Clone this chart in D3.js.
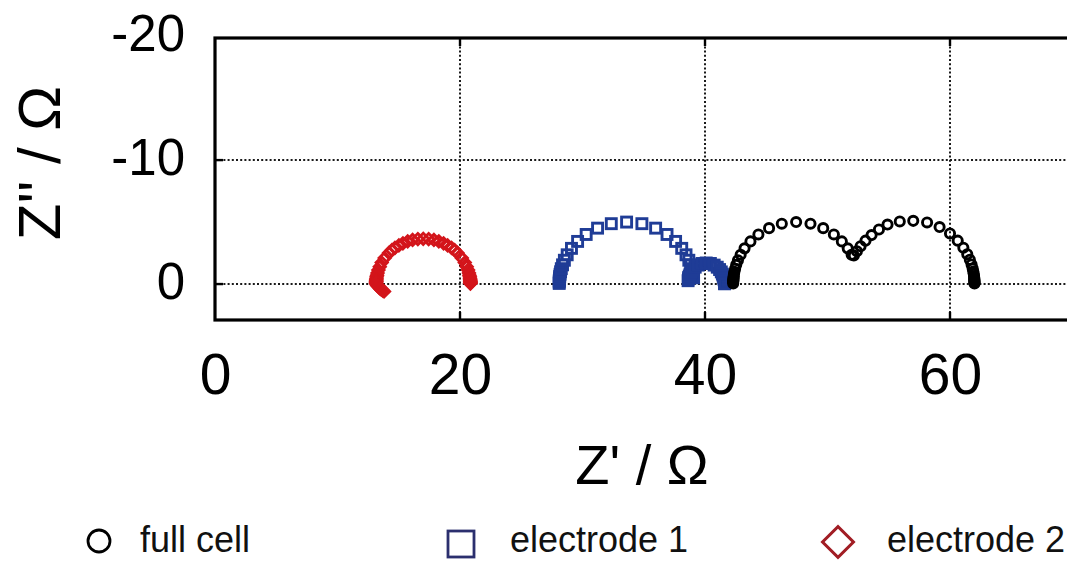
<!DOCTYPE html>
<html><head><meta charset="utf-8">
<script src="https://cdn.jsdelivr.net/npm/d3@7"></script>
<style>
html,body{margin:0;padding:0;background:#fff;}
svg{display:block;font-family:"Liberation Sans",Arial,Helvetica,sans-serif;}
</style>
</head><body>
<svg id="c" width="1067" height="562"></svg>
<script>
// ---- data (Z' , Z'' in ohm) ----
const xTicks = [0, 20, 40, 60];
const yTicks = [-20, -10, 0];
const xGrid = [20, 40, 60];
const yGrid = [-10, 0];
const seriesNames = ["full cell", "electrode 1", "electrode 2"];
const seriesColors = ["#000000", "#1f3c96", "#d3151b"];
const legendColors = ["#000000", "#2b2f6e", "#a11d24"];

const fullCell = [
  [42.30,-0.05],[42.30,-0.16],[42.31,-0.25],[42.31,-0.31],[42.32,-0.40],[42.33,-0.50],
  [42.34,-0.63],[42.36,-0.79],[42.40,-0.99],[42.46,-1.24],[42.55,-1.55],[42.69,-1.92],
  [42.91,-2.36],[43.23,-2.88],[43.71,-3.44],[44.36,-4.00],[45.23,-4.51],[46.27,-4.87],
  [47.44,-5.00],[48.61,-4.87],[49.65,-4.51],[50.52,-4.00],[51.17,-3.44],[51.65,-2.88],
  [51.97,-2.36],[52.15,-2.30],[52.40,-2.65],[52.70,-3.05],[53.10,-3.50],[53.60,-3.95],
  [54.20,-4.40],[54.90,-4.80],[55.90,-5.05],[57.00,-5.10],[58.13,-4.97],[59.15,-4.60],
  [60.00,-4.08],[60.63,-3.50],[61.09,-2.93],[61.41,-2.41],[61.62,-1.96],[61.76,-1.58],
  [61.85,-1.26],[61.90,-1.01],[61.94,-0.81],[61.96,-0.64],[61.98,-0.51],[61.98,-0.41],
  [61.99,-0.32],[61.99,-0.26],[62.00,-0.16],[62.00,-0.11],[62.00,-0.05]
];

const electrode1 = [
  [28.10,-0.05],[28.10,-0.16],[28.11,-0.25],[28.11,-0.31],[28.12,-0.40],[28.13,-0.50],
  [28.14,-0.63],[28.17,-0.79],[28.21,-0.99],[28.27,-1.24],[28.37,-1.55],[28.52,-1.92],
  [28.75,-2.36],[29.10,-2.88],[29.60,-3.44],[30.30,-4.00],[31.23,-4.51],[32.35,-4.87],
  [33.60,-5.00],[34.85,-4.87],[35.97,-4.51],[36.90,-4.00],[37.60,-3.44],[38.10,-2.88],
  [38.45,-2.36],[38.68,-1.92],[38.83,-1.55],[38.93,-1.24],[38.99,-0.99],[39.03,-0.79],
  [39.06,-0.63],[39.07,-0.50],
  [38.62,-0.27],[38.65,-0.42],[38.67,-0.53],[38.72,-0.65],[38.78,-0.80],[38.87,-0.98],
  [39.01,-1.17],[39.20,-1.36],[39.45,-1.53],[39.76,-1.66],[40.10,-1.70],[40.44,-1.66],
  [40.75,-1.53],[41.00,-1.36],[41.19,-1.17],[41.33,-0.98],[41.42,-0.80],[41.48,-0.65],
  [41.53,-0.53],[41.55,-0.42],[41.57,-0.34],[41.59,-0.21],[41.60,-0.14],[41.60,-0.09],
  [41.60,-0.05],[41.60,-0.04],[41.60,-0.02]
];

const electrode2 = [
  [20.85,-0.04],[20.85,-0.08],[20.85,-0.12],[20.85,-0.19],[20.84,-0.23],[20.84,-0.29],
  [20.83,-0.36],[20.82,-0.46],[20.80,-0.58],[20.77,-0.72],[20.73,-0.90],[20.66,-1.13],
  [20.55,-1.40],[20.39,-1.73],[20.15,-2.10],[19.80,-2.51],[19.56,-2.73],[19.31,-2.92],
  [18.99,-3.12],[18.66,-3.29],[18.27,-3.45],[17.87,-3.56],[17.44,-3.63],[17.00,-3.65],
  [16.56,-3.63],[16.13,-3.56],[15.73,-3.45],[15.34,-3.29],[15.01,-3.12],[14.69,-2.92],
  [14.44,-2.73],[14.20,-2.51],[13.85,-2.10],[13.61,-1.73],[13.45,-1.40],[13.34,-1.13],
  [13.27,-0.90],[13.23,-0.72],[13.20,-0.58],[13.18,-0.46],[13.17,-0.36],[13.16,-0.29],
  [13.16,-0.23],[13.16,-0.19],[13.15,-0.12],[13.15,-0.04],
  [13.20,0.06],[13.30,0.17],[13.40,0.28],[13.50,0.38],[13.60,0.46],[13.70,0.53],[13.80,0.60]
];

// ---- chart ----
const svg = d3.select("#c");
const xDom = [0, 70], yDom = [-19.85, 2.9];
const x = d3.scaleLinear().domain(xDom).range([215, 1072.5]);
const y = d3.scaleLinear().domain(yDom).range([38, 320]);

// gridlines
const grid = svg.append("g").attr("stroke", "#1a1a1a").attr("stroke-width", 2)
  .attr("stroke-dasharray", "2,2.2");
grid.selectAll("line.gx").data(xGrid).join("line")
  .attr("x1", d => x(d)).attr("x2", d => x(d))
  .attr("y1", y(yDom[0])).attr("y2", y(yDom[1]));
grid.selectAll("line.gy").data(yGrid).join("line")
  .attr("y1", d => y(d)).attr("y2", d => y(d))
  .attr("x1", x(xDom[0])).attr("x2", x(xDom[1]));

// tick marks (inward)
const tk = svg.append("g").attr("stroke", "#000").attr("stroke-width", 2.4);
xGrid.forEach(d => {
  tk.append("line").attr("x1", x(d)).attr("x2", x(d)).attr("y1", y(yDom[1])).attr("y2", y(yDom[1]) - 8);
  tk.append("line").attr("x1", x(d)).attr("x2", x(d)).attr("y1", y(yDom[0])).attr("y2", y(yDom[0]) + 8);
});
yGrid.forEach(d => {
  tk.append("line").attr("y1", y(d)).attr("y2", y(d)).attr("x1", x(xDom[0])).attr("x2", x(xDom[0]) + 8);
});

// markers
const g2 = svg.append("g");
g2.selectAll("path").data(electrode2).join("path")
  .attr("d", d3.symbol().type(d3.symbolSquare).size(62))
  .attr("transform", d => `translate(${x(d[0])},${y(d[1])}) rotate(45)`)
  .attr("fill", "none").attr("stroke", seriesColors[2]).attr("stroke-width", 2.9);

const g1 = svg.append("g");
g1.selectAll("rect").data(electrode1).join("rect")
  .attr("x", d => x(d[0]) - 5).attr("y", d => y(d[1]) - 5)
  .attr("width", 10).attr("height", 10)
  .attr("fill", "none").attr("stroke", seriesColors[1]).attr("stroke-width", 2.9);

const g0 = svg.append("g");
g0.selectAll("circle").data(fullCell).join("circle")
  .attr("cx", d => x(d[0])).attr("cy", d => y(d[1])).attr("r", 4.6)
  .attr("fill", "none").attr("stroke", seriesColors[0]).attr("stroke-width", 2.9);

// frame
svg.append("rect")
  .attr("x", x(xDom[0])).attr("y", y(yDom[0]))
  .attr("width", x(xDom[1]) - x(xDom[0])).attr("height", y(yDom[1]) - y(yDom[0]))
  .attr("fill", "none").attr("stroke", "#000").attr("stroke-width", 3.2);

// axes labels
const xa = svg.append("g").attr("transform", `translate(0,${y(yDom[1])})`)
  .call(d3.axisBottom(x).tickValues(xTicks).tickSize(0).tickPadding(34).tickFormat(d => String(d)));
xa.select(".domain").remove();
xa.selectAll("text").attr("font-size", 57).attr("fill", "#000")
  .attr("font-family", "'Liberation Sans',Arial,sans-serif");

const ya = svg.append("g").attr("transform", `translate(${x(xDom[0])},0)`)
  .call(d3.axisLeft(y).tickValues(yTicks).tickSize(0).tickPadding(30).tickFormat(d => String(d)));
ya.select(".domain").remove();
ya.selectAll("text").attr("font-size", 51).attr("fill", "#000").attr("dy", "0.28em")
  .attr("font-family", "'Liberation Sans',Arial,sans-serif");

// axis titles
svg.append("text").attr("x", 642).attr("y", 484).attr("text-anchor", "middle")
  .attr("font-size", 56).attr("fill", "#000").text("Z' /  Ω");
svg.append("text").attr("transform", "translate(60,163) rotate(-90)")
  .attr("text-anchor", "middle").attr("font-size", 60).attr("fill", "#000").text("Z'' / Ω");

// legend
const lg = svg.append("g");
lg.append("circle").attr("cx", 99).attr("cy", 541).attr("r", 11)
  .attr("fill", "none").attr("stroke", legendColors[0]).attr("stroke-width", 2.8);
lg.append("rect").attr("x", 448).attr("y", 531).attr("width", 26).attr("height", 26)
  .attr("fill", "none").attr("stroke", legendColors[1]).attr("stroke-width", 2.8);
lg.append("path").attr("d", d3.symbol().type(d3.symbolSquare).size(480))
  .attr("transform", "translate(838,542) rotate(45)")
  .attr("fill", "none").attr("stroke", legendColors[2]).attr("stroke-width", 3);
const legX = [140, 510, 887];
lg.selectAll("text").data(seriesNames).join("text")
  .attr("x", (d, i) => legX[i]).attr("y", 552)
  .attr("font-size", 36).attr("fill", "#111")
  .text(d => d);
</script>
</body></html>
